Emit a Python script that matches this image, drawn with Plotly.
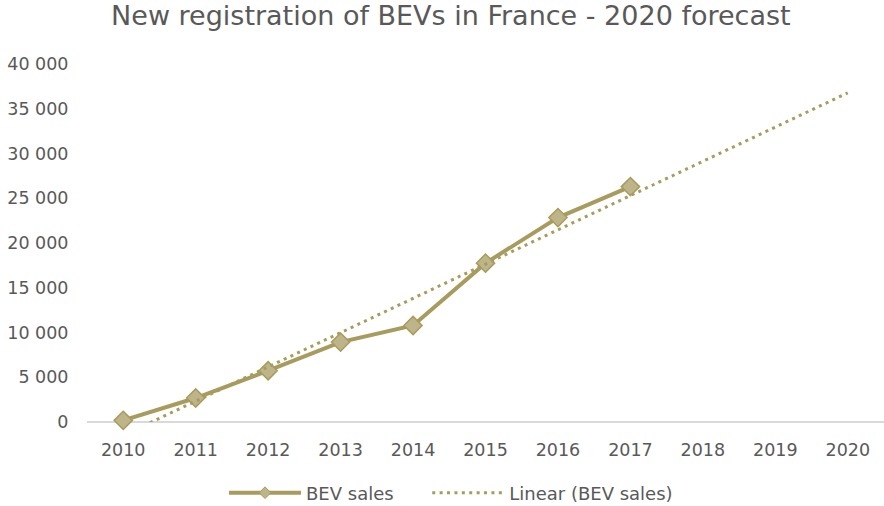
import numpy as np
import plotly.graph_objects as go

years = [2010, 2011, 2012, 2013, 2014, 2015, 2016, 2017, 2018, 2019, 2020]
sales_years = [2010, 2011, 2012, 2013, 2014, 2015, 2016, 2017]
bev_sales = [184, 2680, 5730, 8930, 10780, 17750, 22840, 26300]
y_ticks = [0, 5000, 10000, 15000, 20000, 25000, 30000, 35000, 40000]
y_tick_labels = ["0", "5 000", "10 000", "15 000", "20 000", "25 000", "30 000", "35 000", "40 000"]

# Excel-style linear trendline on the series index, forecast to 2020
idx = np.arange(1, len(bev_sales) + 1)
slope, intercept = np.polyfit(idx, bev_sales, 1)
trend_idx = np.arange(1, len(years) + 1)
trend_vals = slope * trend_idx + intercept

LINE = "#A89B5E"
FILL = "#BEB48A"
TXT = "#595959"
FONT = "DejaVu Sans, Verdana, sans-serif"
PAD = "\u00a0" * 5  # extra room between legend entries

fig = go.Figure()
fig.add_trace(go.Scatter(
    x=sales_years, y=bev_sales, name="BEV sales", mode="lines+markers",
    line=dict(color=LINE, width=4),
    marker=dict(symbol="diamond", size=14, color=FILL, line=dict(color=LINE, width=1.5)),
    cliponaxis=False, showlegend=False, legendgroup="bev",
))
# legend entry with the smaller legend diamond
fig.add_trace(go.Scatter(
    x=[None], y=[None], name="BEV sales" + PAD, mode="lines+markers",
    line=dict(color=LINE, width=4),
    marker=dict(symbol="diamond", size=9, color=FILL, line=dict(color=LINE, width=1)),
    legendgroup="bev", hoverinfo="skip",
))
fig.add_trace(go.Scatter(
    x=years, y=trend_vals, name="Linear (BEV sales)", mode="lines",
    line=dict(color=LINE, width=3, dash="3px,4.4px"),
))

fig.update_layout(
    width=884, height=506,
    margin=dict(l=87, r=0, t=64, b=84, autoexpand=False),
    paper_bgcolor="white", plot_bgcolor="white",
    font=dict(family=FONT, color=TXT, size=17),
    title=dict(text="New registration of BEVs in France - 2020 forecast",
               x=0.51, xanchor="center", xref="container",
               y=1 - 16 / 506, yanchor="middle", yref="container",
               font=dict(size=27, color=TXT, family=FONT)),
    showlegend=True,
    legend=dict(orientation="h", xref="container", yref="container",
                x=224 / 884, xanchor="left", y=1 - 493 / 506, yanchor="middle",
                font=dict(size=18, color=TXT), itemwidth=72),
)
fig.update_xaxes(
    range=[2009.5, 2020.5], tickvals=years, ticktext=[str(y) for y in years],
    showgrid=False, zeroline=False, showline=False, automargin=False,
    ticks="outside", ticklen=12, tickcolor="rgba(0,0,0,0)",
    tickfont=dict(size=17.5, color=TXT),
)
fig.update_yaxes(
    range=[0, 40000], tickvals=y_ticks, ticktext=y_tick_labels,
    showgrid=False, zeroline=True, zerolinecolor="#D9D9D9", zerolinewidth=2,
    showline=False, automargin=False, ticks="outside", ticklen=14,
    tickcolor="rgba(0,0,0,0)",
    tickfont=dict(size=17.5, color=TXT),
)

fig.write_html("out.html", config={"displayModeBar": False},
               post_script="document.body.style.margin='0';document.body.style.overflow='hidden';")
